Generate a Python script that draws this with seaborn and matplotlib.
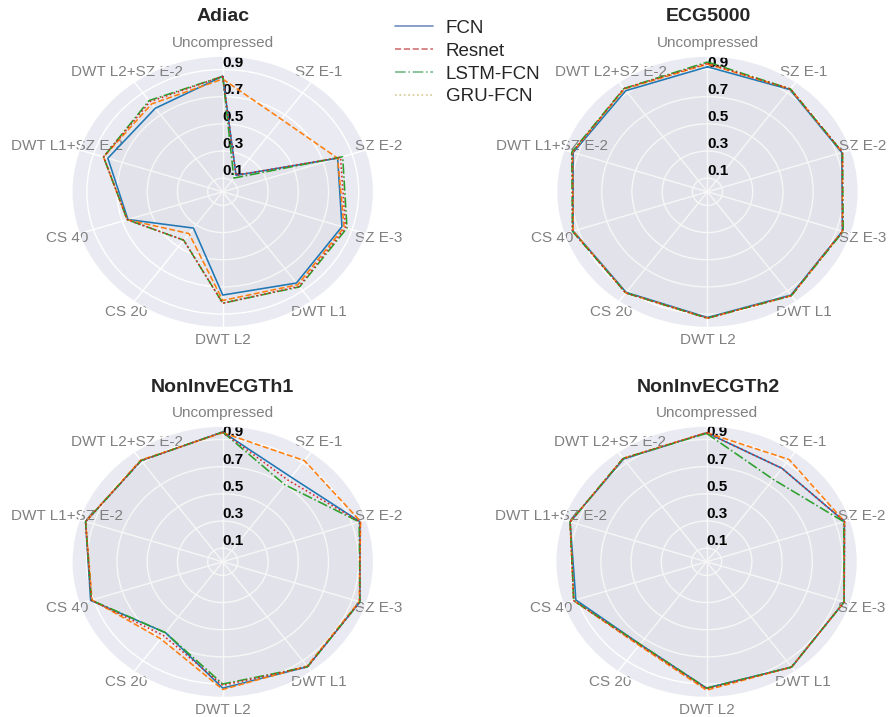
import numpy as np
import pandas as pd
import matplotlib
matplotlib.use("Agg")
import matplotlib.pyplot as plt
import seaborn as sns
from matplotlib.lines import Line2D

categories = ["Uncompressed", "SZ E-1", "SZ E-2", "SZ E-3", "DWT L1", "DWT L2",
              "CS 20", "CS 40", "DWT L1+SZ E-2", "DWT L2+SZ E-2"]
models = ["FCN", "Resnet", "LSTM-FCN", "GRU-FCN"]
datasets = ["Adiac", "ECG5000", "NonInvECGTh1", "NonInvECGTh2"]
r_ticks = [0.1, 0.3, 0.5, 0.7, 0.9]

# accuracy per compression setting
adiac_fcn = [0.85, 0.15, 0.80, 0.83, 0.83, 0.76, 0.33, 0.66, 0.80, 0.76]
adiac_resnet = [0.83, 0.66, 0.80, 0.845, 0.845, 0.80, 0.38, 0.665, 0.83, 0.80]
adiac_lstm = [0.85, 0.125, 0.835, 0.865, 0.865, 0.82, 0.44, 0.665, 0.83, 0.83]
adiac_gru = [0.85, 0.15, 0.82, 0.855, 0.86, 0.82, 0.44, 0.665, 0.83, 0.82]

ecg_fcn = [0.92, 0.93, 0.935, 0.94, 0.94, 0.925, 0.915, 0.935, 0.935, 0.92]
ecg_resnet = [0.94, 0.935, 0.94, 0.94, 0.945, 0.93, 0.92, 0.935, 0.94, 0.935]
ecg_lstm = [0.955, 0.935, 0.94, 0.945, 0.945, 0.93, 0.92, 0.94, 0.945, 0.94]
ecg_gru = [0.945, 0.935, 0.94, 0.94, 0.945, 0.93, 0.92, 0.94, 0.94, 0.94]

th1_fcn = [0.955, 0.77, 0.955, 0.955, 0.955, 0.93, 0.645, 0.92, 0.955, 0.92]
th1_resnet = [0.95, 0.92, 0.96, 0.95, 0.95, 0.94, 0.70, 0.91, 0.955, 0.925]
th1_lstm = [0.955, 0.70, 0.95, 0.955, 0.955, 0.90, 0.645, 0.915, 0.955, 0.92]
th1_gru = [0.955, 0.74, 0.955, 0.955, 0.955, 0.91, 0.67, 0.915, 0.955, 0.92]

th2_fcn = [0.95, 0.85, 0.96, 0.958, 0.958, 0.93, 0.75, 0.91, 0.95, 0.935]
th2_resnet = [0.95, 0.93, 0.96, 0.958, 0.958, 0.945, 0.76, 0.925, 0.95, 0.94]
th2_lstm = [0.945, 0.75, 0.955, 0.958, 0.958, 0.93, 0.75, 0.925, 0.95, 0.94]
th2_gru = [0.95, 0.85, 0.96, 0.958, 0.958, 0.935, 0.755, 0.925, 0.95, 0.94]

results = {
    "Adiac": [adiac_fcn, adiac_resnet, adiac_lstm, adiac_gru],
    "ECG5000": [ecg_fcn, ecg_resnet, ecg_lstm, ecg_gru],
    "NonInvECGTh1": [th1_fcn, th1_resnet, th1_lstm, th1_gru],
    "NonInvECGTh2": [th2_fcn, th2_resnet, th2_lstm, th2_gru],
}

sns.set_theme(style="darkgrid")
plt.rcParams["font.family"] = ["Liberation Sans", "DejaVu Sans"]
plt.rcParams["xtick.major.pad"] = 2
plt.rcParams["xtick.major.size"] = 0

palette = {"FCN": "tab:blue", "Resnet": "tab:orange", "LSTM-FCN": "tab:green", "GRU-FCN": "tab:red"}
dashes = {"FCN": "", "Resnet": (3.7, 1.6), "LSTM-FCN": (6.4, 1.6, 1, 1.6), "GRU-FCN": (1, 1.65)}

n = len(categories)
angles = np.linspace(0, 2 * np.pi, n, endpoint=False).tolist()
angles += angles[:1]

fig = plt.figure(figsize=(8.91, 7.17), dpi=100)
rects = {
    "Adiac": [0.0805, 0.543, 0.339, 0.379],
    "ECG5000": [0.6245, 0.543, 0.339, 0.379],
    "NonInvECGTh1": [0.0805, 0.027, 0.339, 0.379],
    "NonInvECGTh2": [0.6235, 0.027, 0.339, 0.379],
}
title_pos = {"Adiac": (0.25, 0.977), "ECG5000": (0.795, 0.977),
             "NonInvECGTh1": (0.25, 0.460), "NonInvECGTh2": (0.795, 0.460)}

for name in datasets:
    ax = fig.add_axes(rects[name], projection="polar")
    rows = []
    for model, vals in zip(models, results[name]):
        closed = list(vals) + vals[:1]
        for a, v in zip(angles, closed):
            rows.append({"angle": a, "acc": v, "model": model})
    df = pd.DataFrame(rows)
    ax.set_theta_offset(np.pi / 2)
    ax.set_theta_direction(-1)
    sns.lineplot(data=df, x="angle", y="acc", hue="model", style="model",
                 palette=palette, dashes=dashes, sort=False, estimator=None,
                 linewidth=1.15, legend=False, ax=ax)
    for model, vals in zip(models, results[name]):
        ax.fill(angles, list(vals) + vals[:1], color="gray", alpha=0.013)
    ax.set_aspect("auto")
    ax.set_ylim(0, 1)
    ax.set_xticks(angles[:-1])
    ax.set_xticklabels(categories, color="gray", fontsize=11)
    ax.tick_params(axis="x", pad=2, length=0)
    ax.set_rlabel_position(0)
    ax.set_yticks(r_ticks)
    ax.set_yticklabels([str(t) for t in r_ticks], fontweight="bold", fontsize=11, color="black")
    ax.set_xlabel("")
    ax.set_ylabel("")
    fig.text(*title_pos[name], name, ha="center", va="center", fontsize=14, fontweight="bold")

handles = [
    Line2D([], [], color="b", alpha=0.8, linestyle="-", linewidth=1.2),
    Line2D([], [], color="r", alpha=0.8, linestyle="--", linewidth=1.2),
    Line2D([], [], color="g", alpha=0.8, linestyle="-.", linewidth=1.2),
    Line2D([], [], color="y", alpha=0.8, linestyle=":", linewidth=1.2),
]
fig.legend(handles, models, loc="upper left", bbox_to_anchor=(0.4245, 0.9958),
           frameon=False, fontsize=13.5, handlelength=2.0, handletextpad=0.7,
           labelspacing=0.30)

fig.savefig("out.png", dpi=100)
